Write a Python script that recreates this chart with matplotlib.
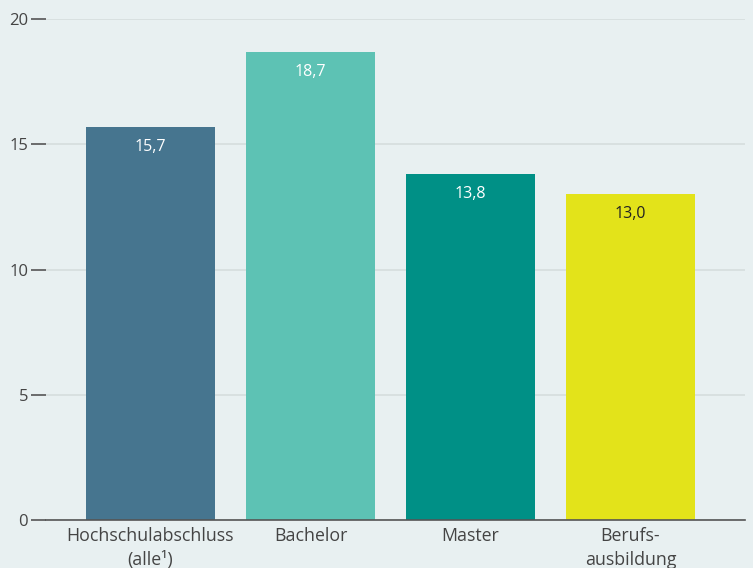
import matplotlib
matplotlib.use("Agg")
import matplotlib.pyplot as plt

categories = ["Hochschulabschluss\n(alle\u00b9)", "Bachelor", "Master", "Berufs-\nausbildung"]
values = [15.7, 18.7, 13.8, 13.0]
value_labels = ["15,7", "18,7", "13,8", "13,0"]
bar_colors = ["#46758f", "#5dc2b4", "#009086", "#e3e31a"]
label_colors = ["white", "white", "white", "#222222"]
yticks = [0, 5, 10, 15, 20]

plt.rcParams["font.family"] = ["Open Sans", "DejaVu Sans"]

bg = "#e8f0f1"
fig = plt.figure(figsize=(7.53, 5.68), dpi=100, facecolor=bg)
ax = fig.add_axes([46 / 753, 48 / 568, 699 / 753, 501 / 568], facecolor=bg)

x = range(len(categories))
ax.bar(x, values, width=0.806, color=bar_colors, zorder=3)

for i, v in enumerate(values):
    ax.text(i, v - 0.8, value_labels[i], ha="center", va="center",
            fontsize=11.5, color=label_colors[i], zorder=4)

ax.set_xlim(-0.653, 3.716)
ax.set_ylim(0, 20)
ax.set_yticks(yticks)
ax.set_yticklabels([str(t) for t in yticks])
ax.set_xticks(list(x))
ax.set_xticklabels(categories, linespacing=1.45)

ax.grid(axis="y", color="#d5dddd", linewidth=1.2, zorder=0)
for s in ["top", "right", "left"]:
    ax.spines[s].set_visible(False)
ax.spines["bottom"].set_color("#555555")
ax.spines["bottom"].set_linewidth(1.2)
ax.spines["bottom"].set_zorder(5)

ax.tick_params(axis="y", length=10.8, width=1.2, color="#555555", pad=2,
               labelsize=12, labelcolor="#444444")
ax.tick_params(axis="x", length=0, pad=5, labelsize=12.8, labelcolor="#444444")

fig.savefig("out.png", dpi=100, facecolor=bg)
